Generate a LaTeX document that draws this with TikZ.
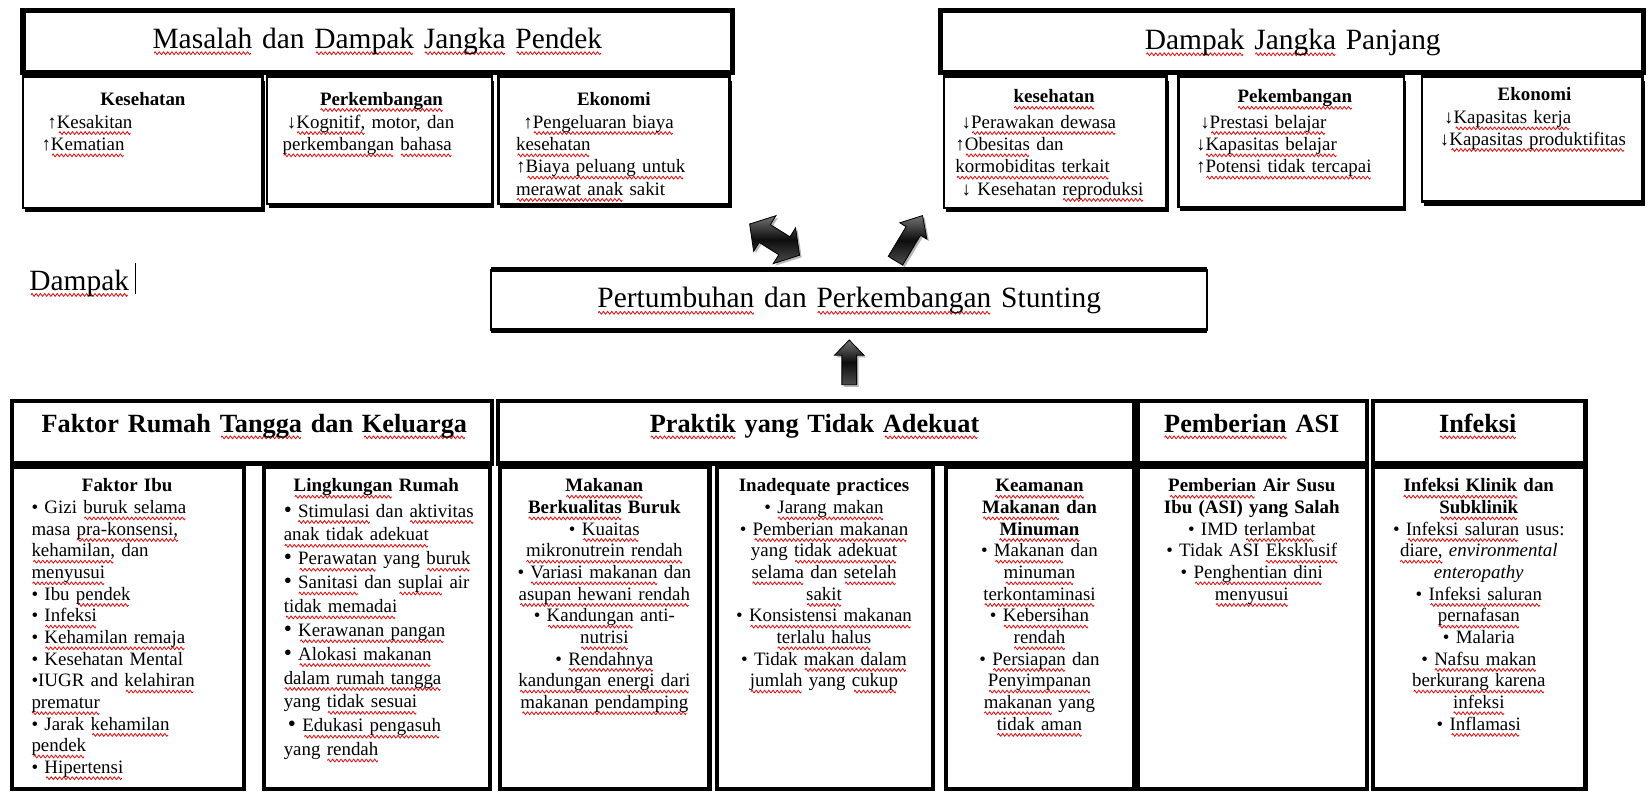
\documentclass[tikz,border=0pt]{standalone}
\usepackage{fontspec}
\setmainfont{Liberation Serif}
\usetikzlibrary{shadows}
\newsavebox\wvbox
\newcommand\wavepiece{\hbox to 4pt{\special{pdf:content q 0.88 0.08 0.08 RG 0.8 w 1 j 0 -4.6 m 1 -3.2 l 2 -4.6 l 3 -6 l 4 -4.6 l S Q}\hfil}}
\newcommand\wv[1]{\sbox\wvbox{#1}\leavevmode\rlap{\hbox to\wd\wvbox{\cleaders\wavepiece\hfill}}\usebox\wvbox}
\newcommand\fbody{\fontsize{18}{20.6}\selectfont}
\newcommand\ftop{\fontsize{18}{21.2}\selectfont}
\newcommand\fhs{\fontsize{18}{21.2}\selectfont\bfseries}
\newcommand\fhome{\fontsize{18}{22.7}\selectfont}
\newcommand\ftitle{\fontsize{28}{32}\selectfont}
\newcommand\fhdr{\fontsize{25}{29}\selectfont\bfseries}
\newcommand\bb{{\fontsize{22}{20}\selectfont•}}
\newcommand\bx[6]{\node[#1, anchor=north west, minimum width={#4-#2}, minimum height={#5-#3}] (#6) at (#2,#3) {};}
\tikzset{
  ttl/.style={draw=black, line width=5pt, fill=white, inner sep=0pt, outer sep=0pt},
  subbox/.style={draw=black, line width=2.5pt, fill=white, inner sep=0pt, outer sep=0pt,
    drop shadow={shadow xshift=2pt, shadow yshift=-4pt, fill=black, opacity=1}},
  cell/.style={draw=black, line width=4pt, fill=white, inner sep=0pt, outer sep=0pt},
  stb/.style={draw=black, line width=1.8pt, fill=white, inner sep=0pt, outer sep=0pt},
  tx/.style={inner sep=0pt, outer sep=0pt, font=\fbody},
  lt/.style={tx, align=left, anchor=base west},
  ct/.style={tx, align=center, anchor=base},
  barrow/.style={draw=black, line width=0.8pt, top color=black!55, bottom color=black!70, middle color=black!95,
    drop shadow={shadow xshift=2pt, shadow yshift=-2pt, fill=black!35, opacity=0.8}},
}
\begin{document}
\begin{tikzpicture}[x=1pt, y=-1pt]
\useasboundingbox (0,0) rectangle (1568,754);
\fill[white] (0,0) rectangle (1568,754);

% ---------- top left ----------
\bx{ttl}{22}{10}{697}{69}{t1}
\node[ct, font=\ftitle, text width=660] (t1t) at (359,46) {\wv{Masalah} dan \wv{Dampak} \wv{Jangka} \wv{Pendek}};
\bx{subbox}{22}{73}{250}{198}{a1}
\bx{subbox}{254}{73}{468}{194}{a2}
\bx{subbox}{474}{73}{694}{194}{a3}
\node[ct, font=\fhs, text width=200] (a1h) at (136,100) {Kesehatan};
\node[ct, font=\fhs, text width=200] (a2h) at (363,100) {\wv{Perkembangan}};
\node[ct, font=\fhs, text width=200] (a3h) at (584,100) {Ekonomi};
\node[lt, font=\ftop, text width=200] (a1b) at (39.5,122) {\hspace*{5.5pt}↑\wv{Kesakitan}\\↑\wv{Kematian}};
\node[lt, font=\ftop, text width=195] (a2b) at (269,122) {\hspace*{4pt}↓\wv{Kognitif,} motor, dan\\\wv{perkembangan} \wv{bahasa}};
\node[lt, font=\ftop, text width=198] (a3b) at (491,122) {\hspace*{7pt}↑\wv{Pengeluaran biaya}\\\wv{kesehatan}\\↑\wv{Biaya peluang untuk}\\\wv{merawat anak} sakit};

% ---------- top right ----------
\bx{ttl}{895}{10}{1564}{69}{t2}
\node[ct, font=\ftitle, text width=640] (t2t) at (1230,47) {\wv{Dampak} \wv{Jangka} Panjang};
\bx{subbox}{898}{73}{1110}{198}{b1}
\bx{subbox}{1121}{73}{1336}{197}{b2}
\bx{subbox}{1353}{73}{1563}{192}{b3}
\node[ct, font=\fhs, text width=200] (b1h) at (1003,98) {\wv{kesehatan}};
\node[ct, font=\fhs, text width=200] (b2h) at (1232,98) {\wv{Pekembangan}};
\node[ct, font=\fhs, text width=200] (b3h) at (1460,95.5) {Ekonomi};
\node[lt, font=\ftop, text width=195] (b1b) at (909,122) {\hspace*{6pt}↓\wv{Perawakan dewasa}\\↑\wv{Obesitas} dan\\\wv{kormobiditas terkait}\\\hspace*{6pt}↓ Kesehatan \wv{reproduksi}};
\node[lt, font=\ftop, text width=192] (b2b) at (1138,122) {\hspace*{4pt}↓\wv{Prestasi belajar}\\↓\wv{Kapasitas belajar}\\↑\wv{Potensi tidak tercapai}};
\node[lt, font=\fbody, text width=188] (b3b) at (1370,117.5) {\hspace*{4pt}↓\wv{Kapasitas kerja}\\↓\wv{Kapasitas produktifitas}};

% ---------- middle ----------
\node[lt, font=\ftitle, text width=98] (dam) at (28,276) {\wv{Dampak}};
\draw[line width=0.8pt] (129,250) -- (129,280);

\bx{stb}{467}{256.5}{1148}{314.5}{st}
\draw[line width=5pt] (st.north west) -- (st.north east);
\draw[line width=5pt] (st.south west) -- (st.south east);
\node[ct, font=\ftitle, text width=660] (stt) at (808,293) {\wv{Pertumbuhan} dan \wv{Perkembangan} Stunting};

% block arrows
\begin{scope}[shift={(737,228)}, rotate=-32]
  \path[barrow] (-28,0) -- (-11,-20) -- (-11,-10) -- (11,-10) -- (11,-20) -- (28,0) -- (11,20) -- (11,10) -- (-11,10) -- (-11,20) -- cycle;
\end{scope}
\begin{scope}[shift={(852,248)}, rotate=59]
  \path[barrow] (0,-8) -- (33,-8) -- (33,-15) -- (50,0) -- (33,15) -- (33,8) -- (0,8) -- cycle;
\end{scope}
\begin{scope}[shift={(808,366)}, rotate=90]
  \path[barrow] (0,-7) -- (28,-7) -- (28,-14) -- (42.5,0) -- (28,14) -- (28,7) -- (0,7) -- cycle;
\end{scope}

% ---------- bottom headers ----------
\bx{cell}{11.5}{381.5}{468}{441}{h1}
\bx{cell}{474}{381.5}{1079}{441}{h2}
\bx{cell}{1083}{381.5}{1301}{441}{h3}
\bx{cell}{1306}{381.5}{1508.5}{441}{h4}
\node[ct, font=\fhdr, text width=440] (h1t) at (242,411.5) {Faktor Rumah \wv{Tangga} dan \wv{Keluarga}};
\node[ct, font=\fhdr, text width=580] (h2t) at (775,411.5) {\wv{Praktik} yang Tidak \wv{Adekuat}};
\node[ct, font=\fhdr, text width=200] (h3t) at (1191,411.5) {\wv{Pemberian} ASI};
\node[ct, font=\fhdr, text width=190] (h4t) at (1406,411.5) {\wv{Infeksi}};

% ---------- bottom cells ----------
\bx{cell}{11.5}{444.5}{232.5}{751}{s1}
\bx{cell}{251.5}{444.5}{466.5}{751}{s2}
\bx{cell}{475.5}{444.5}{675}{751}{s3}
\bx{cell}{682}{444.5}{887.5}{751}{s4}
\bx{cell}{900}{444.5}{1079}{751}{s5}
\bx{cell}{1083}{444.5}{1301}{751}{s6}
\bx{cell}{1306}{444.5}{1508.5}{751}{s7}

\node[ct, text width=200] (s1h) at (121,468) {\textbf{Faktor Ibu}};
\node[lt, text width=198] (s1b) at (30,488.6) {• Gizi \wv{buruk selama}\\masa \wv{pra-konsensi,}\\\wv{kehamilan,} dan\\\wv{menyusui}\\• Ibu \wv{pendek}\\• \wv{Infeksi}\\• \wv{Kehamilan remaja}\\• Kesehatan Mental\\•IUGR and \wv{kelahiran}\\\wv{prematur}\\• Jarak \wv{kehamilan}\\\wv{pendek}\\• \wv{Hipertensi}};

\node[ct, text width=200] (s2h) at (358,468) {\textbf{\wv{Lingkungan} Rumah}};
\node[lt, font=\fhome, text width=192] (s2b) at (270,492) {\bb\ \wv{Stimulasi} dan \wv{aktivitas}\\\wv{anak tidak adekuat}\\\bb\ \wv{Perawatan} yang \wv{buruk}\\\bb\ \wv{Sanitasi} dan \wv{suplai} air\\\wv{tidak memadai}\\\bb\ \wv{Kerawanan pangan}\\\bb\ \wv{Alokasi makanan}\\\wv{dalam rumah tangga}\\yang \wv{tidak sesuai}\\\hspace*{4pt}\bb\ \wv{Edukasi pengasuh}\\yang \wv{rendah}};

\node[ct, text width=190] (s3t) at (575,468) {\textbf{\wv{Makanan}}\\\textbf{\wv{Berkualitas} Buruk}\\• \wv{Kuaitas}\\\wv{mikronutrein rendah}\\• \wv{Variasi makanan} dan\\\wv{asupan hewani rendah}\\• \wv{Kandungan} anti-\\\wv{nutrisi}\\• \wv{Rendahnya}\\\wv{kandungan energi dari}\\\wv{makanan pendamping}};

\node[ct, text width=196] (s4t) at (784,468) {\textbf{Inadequate practices}\\• \wv{Jarang makan}\\• \wv{Pemberian makanan}\\yang \wv{tidak adekuat}\\\wv{selama} dan \wv{setelah}\\\wv{sakit}\\• \wv{Konsistensi makanan}\\\wv{terlalu halus}\\• Tidak \wv{makan dalam}\\\wv{jumlah} yang \wv{cukup}};

\node[ct, text width=170] (s5t) at (989,468) {\textbf{\wv{Keamanan}}\\\textbf{\wv{Makanan} dan}\\\textbf{\wv{Minuman}}\\• \wv{Makanan} dan\\\wv{minuman}\\\wv{terkontaminasi}\\• \wv{Kebersihan}\\\wv{rendah}\\• \wv{Persiapan} dan\\\wv{Penyimpanan}\\\wv{makanan} yang\\\wv{tidak aman}};

\node[ct, text width=205] (s6t) at (1191,468) {\textbf{\wv{Pemberian} Air Susu}\\\textbf{Ibu (ASI) yang Salah}\\• IMD \wv{terlambat}\\• Tidak ASI \wv{Eksklusif}\\• \wv{Penghentian dini}\\\wv{menyusui}};

\node[ct, text width=192] (s7t) at (1407,468) {\textbf{\wv{Infeksi Klinik} dan}\\\textbf{\wv{Subklinik}}\\• \wv{Infeksi saluran} usus:\\\wv{diare,} \textit{environmental}\\\textit{enteropathy}\\• \wv{Infeksi saluran}\\\wv{pernafasan}\\• Malaria\\• \wv{Nafsu makan}\\\wv{berkurang karena}\\\wv{infeksi}\\• \wv{Inflamasi}};
\end{tikzpicture}
\end{document}
